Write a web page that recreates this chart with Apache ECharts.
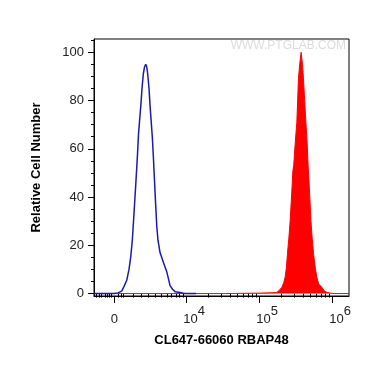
<!DOCTYPE html>
<html>
<head>
<meta charset="utf-8">
<script src="https://cdn.jsdelivr.net/npm/echarts@6/dist/echarts.min.js"></script>
<style>html,body{margin:0;padding:0;background:#fff}#c{width:370px;height:365px}</style>
</head>
<body>
<div id="c"></div>
<script>
// x positions are in display decades (biexponential scale): 4 = 10^4, 5 = 10^5, 6 = 10^6
var blueX = [2.740,3.014,3.068,3.119,3.151,3.188,3.219,3.242,3.264,3.281,3.301,3.319,3.336,3.349,3.370,3.381,3.397,3.415,3.432,3.448,3.462,3.475,3.493,3.507,3.521,3.538,3.552,3.566,3.582,3.599,3.616,3.644,3.689,3.736,3.760,3.781,3.815,3.849,3.941,3.986,4.137];
var blueY = [0,0,0.3,1,3,5.5,10,15,22,30,40,49,58,66,74,78,85,91,94,95,94,91,85,78,72,65,57,48,38,28,22,17,13,9,6,3.3,1.8,0.8,0.3,0,0];
var redX = [2.740,4.534,4.740,5.014,5.151,5.242,5.274,5.311,5.336,5.356,5.374,5.388,5.407,5.425,5.445,5.462,5.473,5.493,5.516,5.538,5.555,5.575,5.593,5.607,5.623,5.640,5.658,5.671,5.692,5.708,5.726,5.744,5.767,5.790,5.815,5.859,5.890,5.927,5.973,6.027,6.230];
var redY = [0,0,0.1,0.2,0.3,0.5,1.3,2.6,4.5,6.8,11,16.7,23,30.4,41,51,53,62,71,89,95,100,95,89,80,71,62,53,41,30.4,23,16.7,11,6.8,4,2.6,1.2,0.5,0.2,0,0];
var xMajorTicks = [3.02,4,5,6];
var xMajorLabels = ['0','4','5','6'];
var xMinorTicks = [2.777,2.812,2.845,2.890,2.918,2.945,2.982,3.073,3.110,3.141,3.277,3.393,3.484,3.575,3.667,3.736,3.804,3.863,3.908,3.955,
  4.301,4.477,4.602,4.699,4.778,4.845,4.903,4.954,5.301,5.477,5.602,5.699,5.778,5.845,5.903,5.954];
var yMajorTicks = [0,20,40,60,80,100];
var yMinorTicks = [5,10,15,25,30,35,45,50,55,65,70,75,85,90,95,105];
var xTitle = 'CL647-66060 RBAP48';
var yTitle = 'Relative Cell Number';
var watermark = 'WWW.PTGLAB.COM';

function zip(a,b){return a.map(function(v,i){return [v,b[i]];});}
var FF = 'Liberation Sans, Arial, sans-serif';
var chart = echarts.init(document.getElementById('c'), null, {renderer:'canvas'});
var xmin = 2.74, xmax = 6.23, ymin = -1, ymax = 105.5;
chart.setOption({
  animation:false,
  grid:{left:94,right:21,top:39,bottom:69,show:true,borderColor:'#000',borderWidth:1,backgroundColor:'transparent'},
  xAxis:[{
    type:'value',min:xmin,max:xmax,position:'bottom',
    axisLine:{show:true,onZero:false,lineStyle:{color:'#000',width:1}},
    splitLine:{show:false},
    axisTick:{show:true,customValues:xMajorTicks,length:7,lineStyle:{color:'#000',width:1}},
    axisLabel:{show:true,customValues:xMajorTicks,margin:16,color:'#222',fontFamily:FF,fontSize:13,
      formatter:function(v){
        var i = 0, best = 1e9;
        xMajorTicks.forEach(function(t,k){ if(Math.abs(t-v)<best){best=Math.abs(t-v);i=k;} });
        if (xMajorLabels[i]==='0') return '{b|0}';
        return '{s| }{b|10}{p|'+xMajorLabels[i]+'}';
      },
      rich:{
        s:{width:16,fontSize:13,fontFamily:FF},
        b:{fontSize:13,fontFamily:FF,color:'#222',verticalAlign:'bottom',lineHeight:14},
        p:{fontSize:13,fontFamily:FF,color:'#222',verticalAlign:'bottom',lineHeight:14,padding:[0,0,8,0]}
      }
    },
    name:xTitle,nameLocation:'middle',nameGap:38,
    nameTextStyle:{fontFamily:FF,fontSize:13,fontWeight:'bold',color:'#000'}
  },{
    type:'value',min:xmin,max:xmax,position:'bottom',gridIndex:0,
    axisLine:{show:false},splitLine:{show:false},
    axisTick:{show:true,customValues:xMinorTicks,length:4,lineStyle:{color:'#000',width:1}},
    axisLabel:{show:false}
  }],
  yAxis:[{
    type:'value',min:ymin,max:ymax,position:'left',
    axisLine:{show:true,onZero:false,lineStyle:{color:'#000',width:1}},
    splitLine:{show:false},
    axisTick:{show:true,customValues:yMajorTicks,length:6,lineStyle:{color:'#000',width:1}},
    axisLabel:{show:true,customValues:yMajorTicks,margin:10,color:'#222',fontFamily:FF,fontSize:13},
    name:yTitle,nameLocation:'middle',nameGap:51,
    nameTextStyle:{fontFamily:FF,fontSize:13,fontWeight:'bold',color:'#000'}
  },{
    type:'value',min:ymin,max:ymax,position:'left',gridIndex:0,
    axisLine:{show:false},splitLine:{show:false},
    axisTick:{show:true,customValues:yMinorTicks,length:3,lineStyle:{color:'#000',width:1}},
    axisLabel:{show:false}
  }],
  graphic:[{type:'text',right:24,top:40,style:{text:watermark,fontFamily:FF,fontSize:12,fill:'#dcdcdc'}}],
  series:[{
    type:'line',data:zip(redX,redY),showSymbol:false,smooth:false,clip:true,
    lineStyle:{color:'#ff0000',width:1},areaStyle:{color:'#ff0000',opacity:1},z:2
  },{
    type:'line',data:zip(blueX,blueY),showSymbol:false,smooth:false,clip:true,
    lineStyle:{color:'#1a1ab0',width:1.5},z:3
  }]
});
</script>
</body>
</html>
